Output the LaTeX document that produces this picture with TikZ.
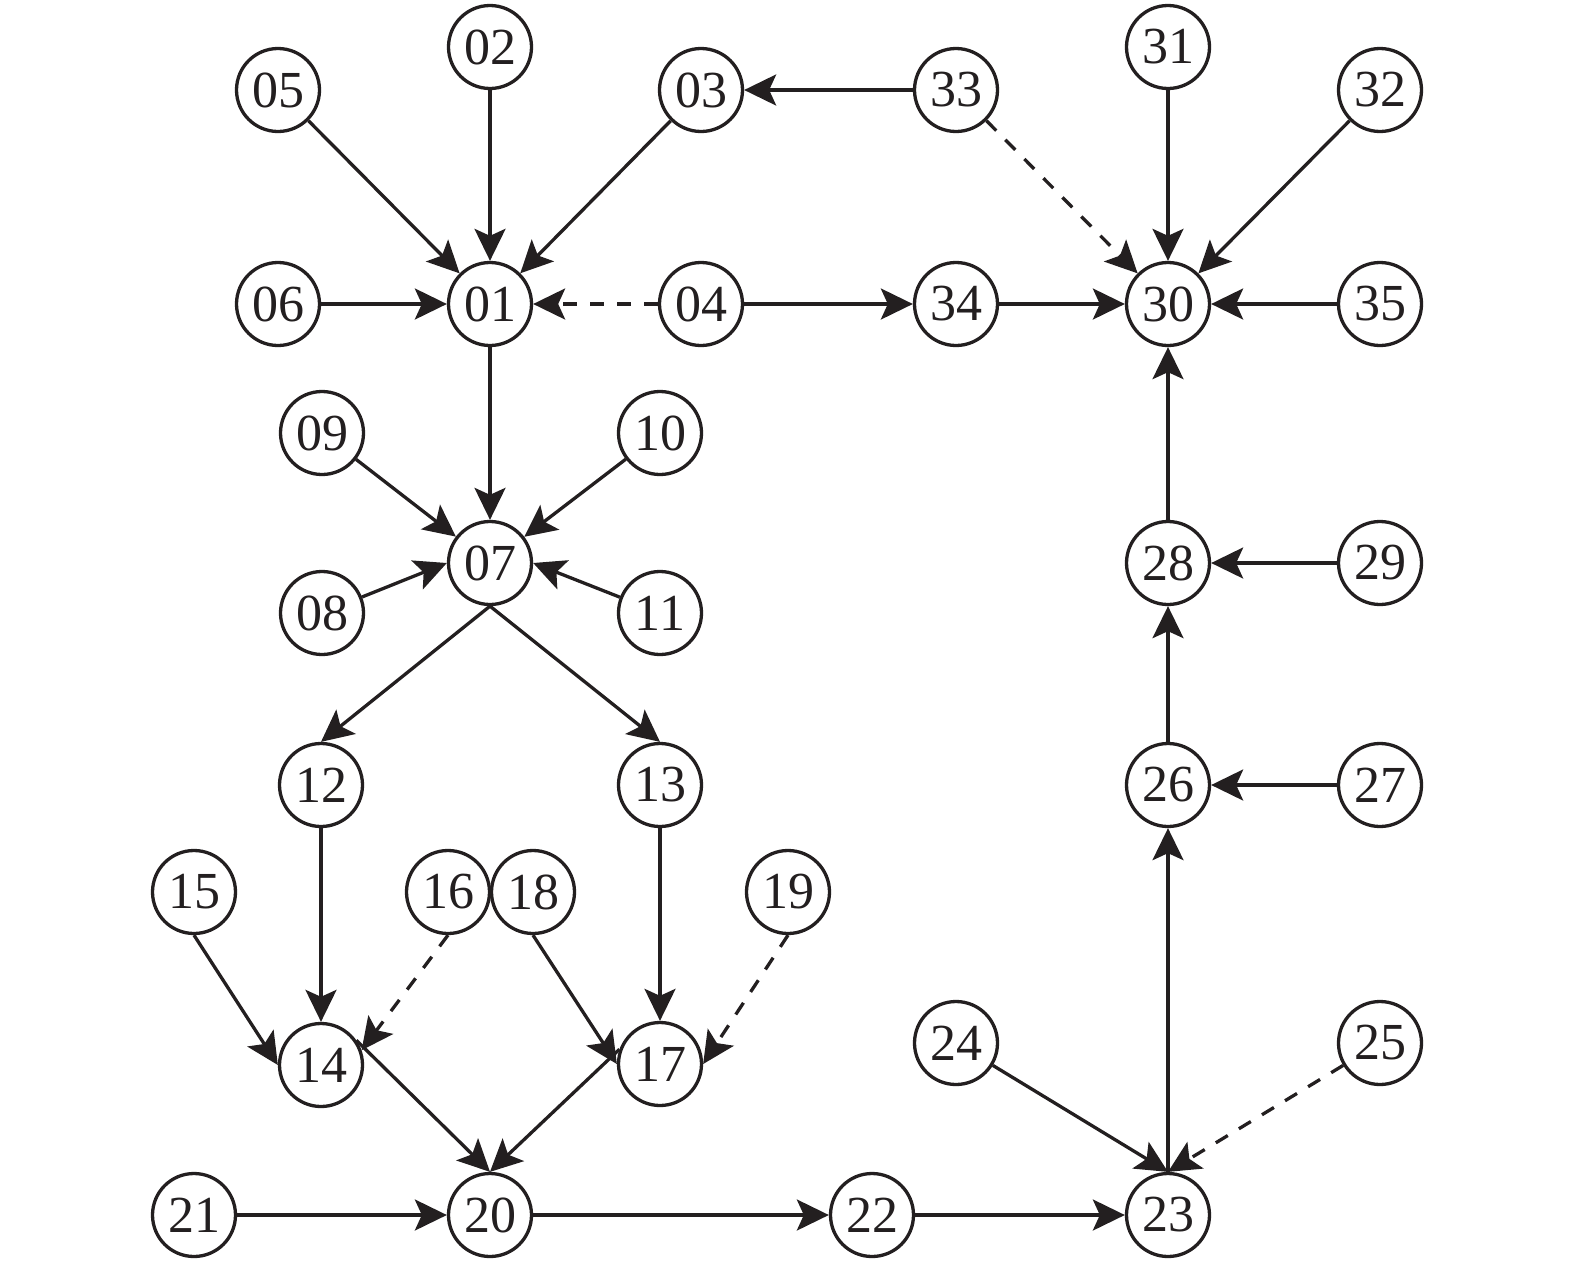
\documentclass[tikz,border=0pt]{standalone}
\usepackage{fontspec}
\setmainfont{Liberation Serif}
\usetikzlibrary{arrows.meta}
\definecolor{ink}{RGB}{35,31,32}
\begin{document}
\begin{tikzpicture}[x=1pt,y=-1pt,
  nd/.style={circle,draw=ink,text=ink,line width=3.3pt,minimum size=83pt,inner sep=0pt,font=\fontsize{52}{52}\selectfont},
  ar/.style={draw=ink,line width=3.3pt,-{Stealth[length=32pt,width=31pt,inset=7pt]}},
  dar/.style={ar,dash pattern=on 14pt off 13pt}]
\useasboundingbox (0,0) rectangle (1575,1264);
\node[nd] (n02) at (490,47) {02};
\node[nd] (n05) at (278,90) {05};
\node[nd] (n03) at (701,90) {03};
\node[nd] (n33) at (956,90) {33};
\node[nd] (n31) at (1168,47) {31};
\node[nd] (n32) at (1380,90) {32};
\node[nd] (n06) at (278,304) {06};
\node[nd] (n01) at (490,304) {01};
\node[nd] (n04) at (701,304) {04};
\node[nd] (n34) at (956,304) {34};
\node[nd] (n30) at (1168,304) {30};
\node[nd] (n35) at (1380,304) {35};
\node[nd] (n09) at (322,433) {09};
\node[nd] (n10) at (660,433) {10};
\node[nd] (n07) at (490,563) {07};
\node[nd] (n08) at (322,613) {08};
\node[nd] (n11) at (660,613) {11};
\node[nd] (n28) at (1168,563) {28};
\node[nd] (n29) at (1380,563) {29};
\node[nd] (n12) at (321,785) {12};
\node[nd] (n13) at (660,785) {13};
\node[nd] (n26) at (1168,785) {26};
\node[nd] (n27) at (1380,785) {27};
\node[nd] (n15) at (194,892) {15};
\node[nd] (n16) at (448,892) {16};
\node[nd] (n18) at (533,892) {18};
\node[nd] (n19) at (788,892) {19};
\node[nd] (n14) at (321,1065) {14};
\node[nd] (n17) at (660,1064) {17};
\node[nd] (n24) at (956,1043) {24};
\node[nd] (n25) at (1380,1043) {25};
\node[nd] (n21) at (194,1215) {21};
\node[nd] (n20) at (490,1215) {20};
\node[nd] (n22) at (872,1215) {22};
\node[nd] (n23) at (1168,1215) {23};

\draw[ar] (n05) -- (n01);
\draw[ar] (n02) -- (n01);
\draw[ar] (n03) -- (n01);
\draw[ar] (n33) -- (n03);
\draw[dar] (n33) -- (n30);
\draw[ar] (n31) -- (n30);
\draw[ar] (n32) -- (n30);
\draw[ar] (n06) -- (n01);
\draw[dar] (n04) -- (n01);
\draw[ar] (n04) -- (n34);
\draw[ar] (n34) -- (n30);
\draw[ar] (n35) -- (n30);
\draw[ar] (n01) -- (n07);
\draw[ar] (n09) -- (n07);
\draw[ar] (n10) -- (n07);
\draw[ar] (n08) -- (n07.west);
\draw[ar] (n11) -- (n07.east);
\draw[ar] (n28) -- (n30);
\draw[ar] (n29) -- (n28);
\draw[ar] (n07.south) -- (n12.north);
\draw[ar] (n07.south) -- (n13.north);
\draw[ar] (n26) -- (n28);
\draw[ar] (n27) -- (n26);
\draw[ar] (n12) -- (n14);
\draw[ar] (n13) -- (n17);
\draw[ar] (n15.south) -- (n14.west);
\draw[dar] (n16.south) -- (n14.20);
\draw[ar] (n18.south) -- (n17.west);
\draw[dar] (n19.south) -- (n17.east);
\draw[ar] (n14.35) -- (n20.north);
\draw[ar] (n17.160) -- (n20.north);
\draw[ar] (n21) -- (n20);
\draw[ar] (n20) -- (n22);
\draw[ar] (n22) -- (n23);
\draw[ar] (n24) -- (n23.north);
\draw[dar] (n25) -- (n23.north);
\draw[ar] (n23.north) -- (n26);
\end{tikzpicture}
\end{document}
